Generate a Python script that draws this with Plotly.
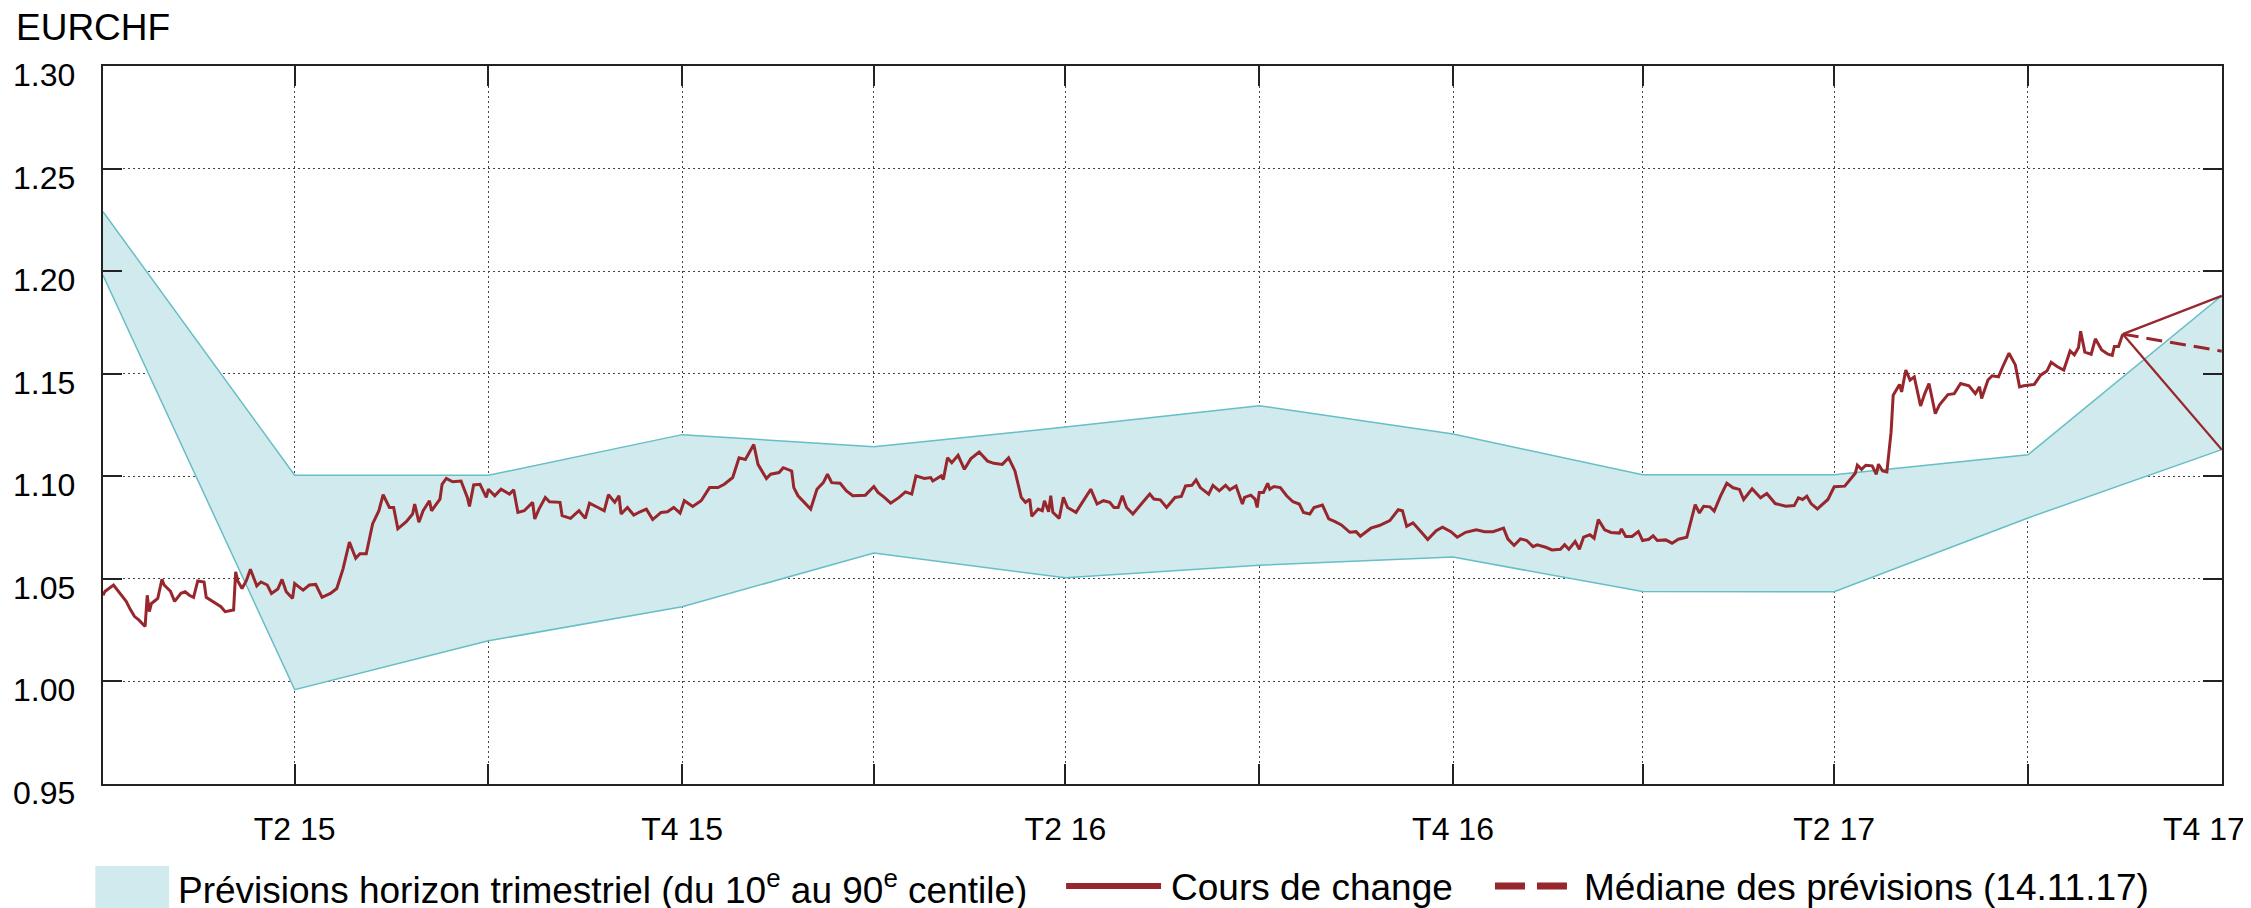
import plotly.graph_objects as go

# EUR/CHF daily rate
rate_dates = [
    "2015-03-31", "2015-04-01", "2015-04-05", "2015-04-07", "2015-04-11", "2015-04-13", "2015-04-15",
    "2015-04-17", "2015-04-20", "2015-04-21", "2015-04-22", "2015-04-23", "2015-04-26", "2015-04-28",
    "2015-04-29", "2015-05-02", "2015-05-04", "2015-05-07", "2015-05-09", "2015-05-11", "2015-05-13",
    "2015-05-15", "2015-05-18", "2015-05-19", "2015-05-22", "2015-05-26", "2015-05-28", "2015-06-01",
    "2015-06-02", "2015-06-03", "2015-06-05", "2015-06-07", "2015-06-09", "2015-06-12", "2015-06-14",
    "2015-06-17", "2015-06-19", "2015-06-22", "2015-06-24", "2015-06-26", "2015-06-29", "2015-06-30",
    "2015-07-04", "2015-07-07", "2015-07-10", "2015-07-13", "2015-07-17", "2015-07-20", "2015-07-23",
    "2015-07-26", "2015-07-29", "2015-07-31", "2015-08-03", "2015-08-06", "2015-08-09", "2015-08-11",
    "2015-08-14", "2015-08-16", "2015-08-18", "2015-08-22", "2015-08-25", "2015-08-26", "2015-08-28",
    "2015-08-30", "2015-09-02", "2015-09-03", "2015-09-07", "2015-09-08", "2015-09-10", "2015-09-13",
    "2015-09-17", "2015-09-20", "2015-09-21", "2015-09-23", "2015-09-26", "2015-09-29", "2015-09-30",
    "2015-10-03", "2015-10-06", "2015-10-10", "2015-10-12", "2015-10-14", "2015-10-17", "2015-10-21",
    "2015-10-22", "2015-10-24", "2015-10-27", "2015-10-29", "2015-11-03", "2015-11-04", "2015-11-08",
    "2015-11-12", "2015-11-15", "2015-11-17", "2015-11-21", "2015-11-24", "2015-11-26", "2015-11-29",
    "2015-12-01", "2015-12-02", "2015-12-05", "2015-12-08", "2015-12-11", "2015-12-14", "2015-12-17",
    "2015-12-21", "2015-12-24", "2015-12-27", "2015-12-30", "2016-01-01", "2016-01-05", "2016-01-09",
    "2016-01-13", "2016-01-17", "2016-01-20", "2016-01-24", "2016-01-27", "2016-01-30", "2016-02-03",
    "2016-02-05", "2016-02-09", "2016-02-11", "2016-02-15", "2016-02-17", "2016-02-21", "2016-02-22",
    "2016-02-24", "2016-02-27", "2016-03-01", "2016-03-04", "2016-03-07", "2016-03-09", "2016-03-11",
    "2016-03-15", "2016-03-18", "2016-03-21", "2016-03-27", "2016-03-31", "2016-04-02", "2016-04-05",
    "2016-04-08", "2016-04-12", "2016-04-15", "2016-04-18", "2016-04-20", "2016-04-24", "2016-04-27",
    "2016-04-28", "2016-05-02", "2016-05-03", "2016-05-05", "2016-05-07", "2016-05-10", "2016-05-13",
    "2016-05-16", "2016-05-20", "2016-05-24", "2016-05-27", "2016-05-31", "2016-06-03", "2016-06-06",
    "2016-06-09", "2016-06-11", "2016-06-13", "2016-06-14", "2016-06-17", "2016-06-19", "2016-06-20",
    "2016-06-22", "2016-06-23", "2016-06-24", "2016-06-27", "2016-06-29", "2016-07-01", "2016-07-05",
    "2016-07-08", "2016-07-12", "2016-07-15", "2016-07-18", "2016-07-21", "2016-07-23", "2016-07-25",
    "2016-07-27", "2016-07-29", "2016-08-01", "2016-08-05", "2016-08-09", "2016-08-11", "2016-08-14",
    "2016-08-17", "2016-08-21", "2016-08-24", "2016-08-26", "2016-08-29", "2016-08-31", "2016-09-02",
    "2016-09-06", "2016-09-08", "2016-09-11", "2016-09-14", "2016-09-16", "2016-09-19", "2016-09-22",
    "2016-09-23", "2016-09-26", "2016-09-28", "2016-09-29", "2016-09-30", "2016-10-02", "2016-10-04",
    "2016-10-05", "2016-10-07", "2016-10-10", "2016-10-13", "2016-10-16", "2016-10-19", "2016-10-21",
    "2016-10-24", "2016-10-26", "2016-10-30", "2016-11-02", "2016-11-05", "2016-11-08", "2016-11-12",
    "2016-11-15", "2016-11-17", "2016-11-22", "2016-11-26", "2016-12-01", "2016-12-05", "2016-12-07",
    "2016-12-09", "2016-12-12", "2016-12-16", "2016-12-19", "2016-12-23", "2016-12-26", "2016-12-30",
    "2017-01-02", "2017-01-06", "2017-01-11", "2017-01-15", "2017-01-19", "2017-01-24", "2017-01-26",
    "2017-01-29", "2017-02-01", "2017-02-04", "2017-02-07", "2017-02-09", "2017-02-13", "2017-02-16",
    "2017-02-20", "2017-02-22", "2017-02-24", "2017-02-27", "2017-03-01", "2017-03-03", "2017-03-06",
    "2017-03-08", "2017-03-10", "2017-03-13", "2017-03-16", "2017-03-20", "2017-03-21", "2017-03-23",
    "2017-03-26", "2017-03-29", "2017-03-31", "2017-04-03", "2017-04-05", "2017-04-07", "2017-04-11",
    "2017-04-14", "2017-04-17", "2017-04-21", "2017-04-25", "2017-04-27", "2017-04-29", "2017-05-02",
    "2017-05-04", "2017-05-07", "2017-05-10", "2017-05-13", "2017-05-16", "2017-05-18", "2017-05-22",
    "2017-05-26", "2017-05-29", "2017-06-02", "2017-06-07", "2017-06-11", "2017-06-13", "2017-06-15",
    "2017-06-17", "2017-06-19", "2017-06-22", "2017-06-27", "2017-06-30", "2017-07-05", "2017-07-10",
    "2017-07-11", "2017-07-13", "2017-07-15", "2017-07-18", "2017-07-20", "2017-07-21", "2017-07-23",
    "2017-07-25", "2017-07-27", "2017-07-28", "2017-07-31", "2017-08-01", "2017-08-03", "2017-08-05",
    "2017-08-07", "2017-08-10", "2017-08-12", "2017-08-14", "2017-08-17", "2017-08-19", "2017-08-23",
    "2017-08-26", "2017-08-29", "2017-09-02", "2017-09-05", "2017-09-07", "2017-09-08", "2017-09-11",
    "2017-09-13", "2017-09-16", "2017-09-18", "2017-09-21", "2017-09-24", "2017-09-26", "2017-09-28",
    "2017-10-03", "2017-10-06", "2017-10-09", "2017-10-11", "2017-10-14", "2017-10-17", "2017-10-20",
    "2017-10-22", "2017-10-24", "2017-10-25", "2017-10-27", "2017-10-30", "2017-11-01", "2017-11-04",
    "2017-11-07", "2017-11-09", "2017-11-10", "2017-11-12", "2017-11-14",
]
rate_values = [
    1.0420, 1.0440, 1.0470, 1.0445, 1.0390, 1.0350, 1.0316,
    1.0300, 1.0268, 1.0420, 1.0340, 1.0380, 1.0405, 1.0498,
    1.0470, 1.0440, 1.0390, 1.0430, 1.0437, 1.0420, 1.0410,
    1.0490, 1.0485, 1.0410, 1.0390, 1.0364, 1.0340, 1.0348,
    1.0534, 1.0490, 1.0453, 1.0490, 1.0547, 1.0466, 1.0485,
    1.0470, 1.0429, 1.0450, 1.0497, 1.0437, 1.0405, 1.0477,
    1.0445, 1.0470, 1.0473, 1.0410, 1.0429, 1.0453, 1.0550,
    1.0679, 1.0600, 1.0622, 1.0622, 1.0768, 1.0832, 1.0910,
    1.0848, 1.0848, 1.0744, 1.0779, 1.0816, 1.0865, 1.0776,
    1.0832, 1.0881, 1.0832, 1.0889, 1.0961, 1.0990, 1.0973,
    1.0977, 1.0897, 1.0853, 1.0958, 1.0961, 1.0897, 1.0937,
    1.0905, 1.0937, 1.0913, 1.0934, 1.0824, 1.0832, 1.0873,
    1.0792, 1.0840, 1.0897, 1.0876, 1.0873, 1.0808, 1.0795,
    1.0832, 1.0795, 1.0869, 1.0848, 1.0832, 1.0910, 1.0873,
    1.0905, 1.0816, 1.0848, 1.0811, 1.0827, 1.0840, 1.0789,
    1.0824, 1.0827, 1.0848, 1.0820, 1.0881, 1.0853, 1.0881,
    1.0945, 1.0945, 1.0961, 1.0994, 1.1090, 1.1082, 1.1155,
    1.1058, 1.0989, 1.1010, 1.1018, 1.1042, 1.1026, 1.0945,
    1.0905, 1.0873, 1.0840, 1.0937, 1.0969, 1.1010, 1.0969,
    1.0966, 1.0929, 1.0905, 1.0908, 1.0950, 1.0921, 1.0897,
    1.0869, 1.0897, 1.0924, 1.0913, 1.1002, 1.0989, 1.0994,
    1.0977, 1.1002, 1.0985, 1.1090, 1.1066, 1.1102, 1.1034,
    1.1085, 1.1118, 1.1074, 1.1063, 1.1058, 1.1090, 1.1026,
    1.0897, 1.0873, 1.0889, 1.0805, 1.0840, 1.0832, 1.0881,
    1.0827, 1.0905, 1.0824, 1.0795, 1.0897, 1.0848, 1.0824,
    1.0873, 1.0937, 1.0865, 1.0881, 1.0873, 1.0848, 1.0848,
    1.0905, 1.0848, 1.0816, 1.0865, 1.0913, 1.0889, 1.0885,
    1.0848, 1.0897, 1.0902, 1.0953, 1.0956, 1.0982, 1.0945,
    1.0913, 1.0956, 1.0929, 1.0956, 1.0934, 1.0953, 1.0865,
    1.0897, 1.0908, 1.0889, 1.0848, 1.0921, 1.0921, 1.0966,
    1.0937, 1.0950, 1.0945, 1.0905, 1.0876, 1.0865, 1.0824,
    1.0816, 1.0848, 1.0860, 1.0792, 1.0779, 1.0763, 1.0727,
    1.0730, 1.0708, 1.0747, 1.0760, 1.0784, 1.0837, 1.0832,
    1.0756, 1.0773, 1.0727, 1.0692, 1.0735, 1.0752, 1.0730,
    1.0703, 1.0727, 1.0739, 1.0730, 1.0730, 1.0747, 1.0695,
    1.0663, 1.0695, 1.0687, 1.0657, 1.0666, 1.0654, 1.0641,
    1.0644, 1.0666, 1.0644, 1.0682, 1.0644, 1.0703, 1.0715,
    1.0698, 1.0789, 1.0739, 1.0726, 1.0723, 1.0743, 1.0707,
    1.0707, 1.0731, 1.0687, 1.0693, 1.0710, 1.0687, 1.0690,
    1.0674, 1.0693, 1.0703, 1.0862, 1.0821, 1.0854, 1.0851,
    1.0830, 1.0903, 1.0966, 1.0944, 1.0936, 1.0887, 1.0939,
    1.0895, 1.0916, 1.0867, 1.0854, 1.0857, 1.0895, 1.0887,
    1.0903, 1.0867, 1.0841, 1.0887, 1.0949, 1.0952, 1.1015,
    1.1054, 1.1034, 1.1054, 1.1051, 1.1010, 1.1059, 1.1026,
    1.1021, 1.1215, 1.1395, 1.1448, 1.1411, 1.1518, 1.1469,
    1.1485, 1.1343, 1.1403, 1.1452, 1.1305, 1.1349, 1.1398,
    1.1403, 1.1452, 1.1441, 1.1403, 1.1436, 1.1379, 1.1469,
    1.1490, 1.1485, 1.1534, 1.1600, 1.1543, 1.1436, 1.1441,
    1.1448, 1.1493, 1.1513, 1.1556, 1.1534, 1.1518, 1.1611,
    1.1592, 1.1628, 1.1707, 1.1605, 1.1595, 1.1670, 1.1616,
    1.1595, 1.1589, 1.1633, 1.1633, 1.1693,
]

# quarterly forecast band (10th-90th percentile)
quarter_dates = [
    "2015-03-31", "2015-06-30", "2015-09-30", "2015-12-31", "2016-03-31", "2016-06-30",
    "2016-09-30", "2016-12-31", "2017-03-31", "2017-06-30", "2017-09-30", "2017-12-31",
]
band_upper = [1.229, 1.1005, 1.1005, 1.1203, 1.1144, 1.124, 1.1344, 1.1206, 1.1007, 1.1007, 1.1105, 1.188]
band_lower = [1.198, 0.996, 1.0198, 1.0364, 1.0626, 1.0505, 1.0566, 1.0606, 1.0438, 1.0437, 1.0797, 1.113]

# latest forecast (14.11.17) for end of Q4 17
fan_dates = ["2017-11-14", "2017-12-31"]
fan_upper = [1.1693, 1.188]
fan_lower = [1.1693, 1.113]
fan_median = [1.1693, 1.161]

tick_dates = quarter_dates[1:]
# the last label sits a little left of its tick in the original, hence the padding
tick_text = ["T2 15", "", "T4 15", "", "T2 16", "", "T4 16", "", "T2 17", "", "T4 17\u00a0\u00a0\u00a0\u00a0"]
y_ticks = [0.95, 1.00, 1.05, 1.10, 1.15, 1.20, 1.25, 1.30]

RED = "#97262d"
TEAL = "#66bec6"
FILL = "#d1eaed"
FONT = "Arial, Liberation Sans, sans-serif"

fig = go.Figure()

fig.add_trace(go.Scatter(x=quarter_dates, y=band_lower, mode="lines",
                         line=dict(color=TEAL, width=1.5), hoverinfo="skip"))
fig.add_trace(go.Scatter(x=quarter_dates, y=band_upper, mode="lines", fill="tonexty",
                         fillcolor=FILL, line=dict(color=TEAL, width=1.5), hoverinfo="skip"))
fig.add_trace(go.Scatter(x=rate_dates, y=rate_values, mode="lines",
                         line=dict(color=RED, width=3), name="Cours de change"))
fig.add_trace(go.Scatter(x=fan_dates, y=fan_upper, mode="lines", line=dict(color=RED, width=2.3)))
fig.add_trace(go.Scatter(x=fan_dates, y=fan_lower, mode="lines", line=dict(color=RED, width=2.3)))
fig.add_trace(go.Scatter(x=fan_dates, y=fan_median, mode="lines",
                         line=dict(color=RED, width=3, dash="16px,8px")))

# page body keeps its default 8px margin, so the figure is 8px smaller
fig.update_layout(
    width=2243,
    height=900,
    showlegend=False,
    paper_bgcolor="white",
    plot_bgcolor="white",
    margin=dict(l=95, r=29, t=58, b=124),
    font=dict(family=FONT, size=32, color="black"),
)
fig.update_xaxes(
    type="date",
    range=[quarter_dates[0], "2017-12-31 03:00"],
    automargin=False,
    tickmode="array",
    tickvals=tick_dates,
    ticktext=tick_text,
    ticklabeloverflow="allow",
    ticks="inside",
    ticklen=20,
    tickwidth=1.5,
    tickcolor="#222",
    ticklabelstandoff=16,
    showline=True,
    linecolor="#222",
    linewidth=2,
    mirror="ticks",
    showgrid=True,
    gridcolor="#444",
    gridwidth=1,
    griddash="2px,3px",
    zeroline=False,
    tickfont=dict(size=32),
)
fig.update_yaxes(
    range=[0.95, 1.30],
    automargin=False,
    tickmode="array",
    tickvals=y_ticks,
    showticklabels=False,
    ticks="inside",
    ticklen=19,
    tickwidth=1.5,
    tickcolor="#222",
    showline=True,
    linecolor="#222",
    linewidth=2,
    mirror="ticks",
    showgrid=True,
    gridcolor="#444",
    gridwidth=1,
    griddash="2px,3px",
    zeroline=False,
)

# y tick labels, sitting slightly below their gridline as in the original
for v in y_ticks:
    fig.add_annotation(x=0, xref="paper", y=v, yref="y", text=f"{v:.2f}", showarrow=False,
                       xanchor="right", yanchor="middle", xshift=-26, yshift=-9,
                       font=dict(size=32))

fig.add_annotation(x=-0.042, xref="paper", y=1.0543, yref="paper", text="EURCHF",
                   showarrow=False, xanchor="left", yanchor="middle", font=dict(size=37))

# legend drawn by hand below the plot
LEG_Y = -0.1421
fig.add_shape(type="rect", xref="paper", yref="paper", x0=-0.0036, x1=0.0312,
              y0=-0.1727, y1=-0.1142, fillcolor=FILL, line=dict(width=0))
fig.add_shape(type="line", xref="paper", yref="paper", x0=0.4545, x1=0.4993,
              y0=LEG_Y, y1=LEG_Y, line=dict(color=RED, width=6))
fig.add_shape(type="line", xref="paper", yref="paper", x0=0.6569, x1=0.6923,
              y0=LEG_Y, y1=LEG_Y, line=dict(color=RED, width=7, dash="30px,12px"))

legend_items = [
    (0.0345, "Prévisions horizon trimestriel (du 10<sup>e</sup> au 90<sup>e</sup> centile)"),
    (0.5031, "Cours de change"),
    (0.6980, "Médiane des prévisions (14.11.17)"),
]
for lx, txt in legend_items:
    fig.add_annotation(x=lx, xref="paper", y=-0.1448, yref="paper", text=txt, showarrow=False,
                       xanchor="left", yanchor="middle", font=dict(size=37))

fig.write_html("out.html")
